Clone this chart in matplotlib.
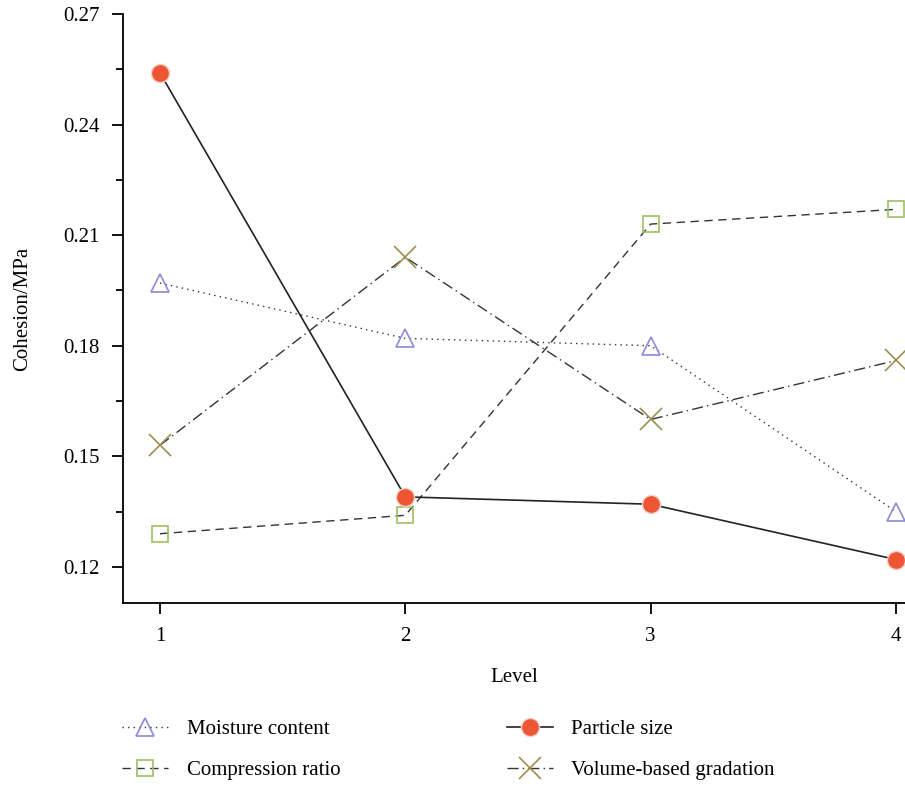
import matplotlib
matplotlib.use("Agg")
import matplotlib.pyplot as plt
from matplotlib.ticker import MultipleLocator

plt.rcParams['font.family'] = ['Liberation Serif', 'DejaVu Serif']

levels = [1, 2, 3, 4]
moisture = [0.197, 0.182, 0.180, 0.135]
compression = [0.129, 0.134, 0.213, 0.217]
particle = [0.254, 0.139, 0.137, 0.122]
volume = [0.153, 0.204, 0.160, 0.176]

fig = plt.figure(figsize=(9.05, 7.86), dpi=100)
ax = fig.add_axes([0.1359, 0.2328, 0.8641, 0.7494])

l_moist, = ax.plot(levels, moisture, color='#333333', lw=1, linestyle=(0, (1, 3)),
                   marker='^', ms=13, mfc='none', mec='#8a8ad8', mew=1.2)
l_comp, = ax.plot(levels, compression, color='#333333', lw=1, linestyle=(0, (6, 4)),
                  marker='s', ms=11, mfc='none', mec='#9cc060', mew=1.2)
l_part, = ax.plot(levels, particle, color='#222222', lw=1.2, linestyle='-',
                  marker='o', ms=13, mfc='#ee5533', mec='#f0d0c8', mew=1)
l_vol, = ax.plot(levels, volume, color='#333333', lw=1, linestyle=(0, (8, 3, 1, 3)),
                 marker='x', ms=16, mfc='none', mec='#9a9050', mew=1.2)

ax.set_xlim(0.849, 4.037)
ax.set_ylim(0.1102, 0.27)
ax.set_xticks(levels)
ax.yaxis.set_major_locator(MultipleLocator(0.03))
ax.yaxis.set_minor_locator(MultipleLocator(0.015))
ax.set_yticks([0.12, 0.15, 0.18, 0.21, 0.24, 0.27])
ax.set_yticklabels(['0.12', '0.15', '0.18', '0.21', '0.24', '0.27'])

for side in ['top', 'right']:
    ax.spines[side].set_visible(False)
for side in ['left', 'bottom']:
    ax.spines[side].set_linewidth(1.3)
ax.tick_params(which='major', direction='out', length=8, width=1.3, labelsize=15, pad=9)
ax.tick_params(which='minor', direction='out', length=5, width=1.3)

ax.set_xlabel('Level', fontsize=15, labelpad=16)
ax.set_ylabel('Cohesion/MPa', fontsize=15, labelpad=22)

fig.legend([l_moist, l_comp, l_part, l_vol],
           ['Moisture content', 'Compression ratio', 'Particle size', 'Volume-based gradation'],
           loc='upper left', bbox_to_anchor=(0.114, 0.108), ncol=2, frameon=False,
           fontsize=15, handlelength=2.2, handletextpad=0.9, columnspacing=8.0,
           labelspacing=1.0)

fig.savefig('out.png', dpi=100)
